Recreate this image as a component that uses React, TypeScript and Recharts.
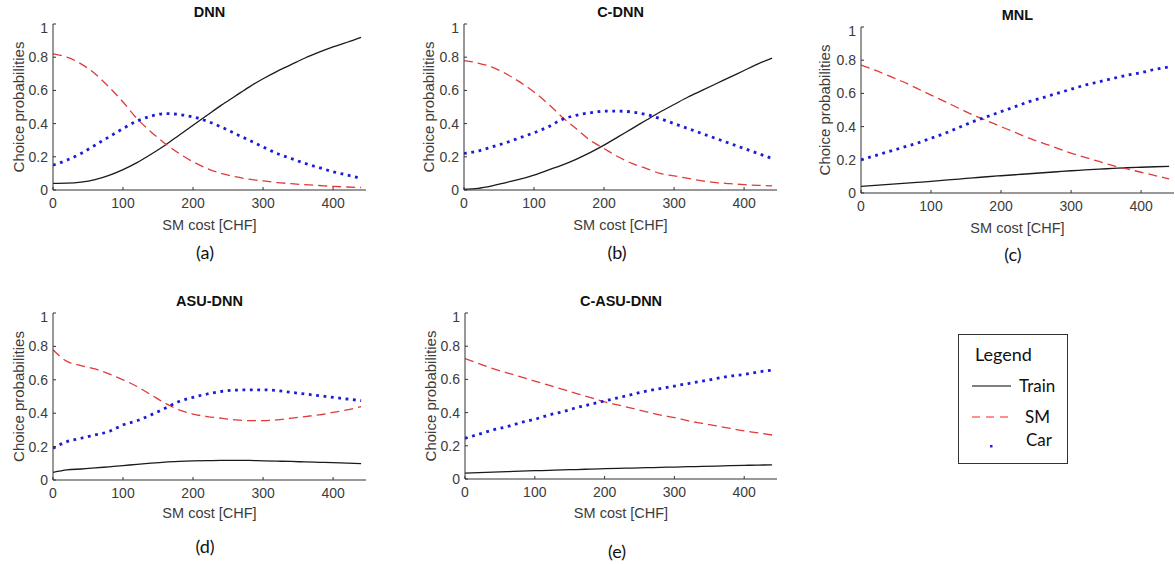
import React from "react";
import { LineChart, Line, XAxis, YAxis, Label } from "recharts";

// SM cost sample points [CHF]
const costs = [0, 20, 40, 60, 80, 100, 120, 140, 160, 180, 200, 220, 240, 260, 280, 300, 320, 340, 360, 380, 400, 420, 440];

const dnnTrain = [0.04, 0.041, 0.047, 0.062, 0.088, 0.123, 0.165, 0.215, 0.27, 0.33, 0.39, 0.45, 0.51, 0.565, 0.62, 0.67, 0.715, 0.755, 0.795, 0.83, 0.862, 0.89, 0.92];
const dnnSM = [0.82, 0.8, 0.76, 0.7, 0.62, 0.53, 0.43, 0.35, 0.28, 0.22, 0.17, 0.13, 0.1, 0.08, 0.065, 0.055, 0.045, 0.038, 0.032, 0.027, 0.022, 0.018, 0.015];
const dnnCar = [0.15, 0.18, 0.22, 0.27, 0.32, 0.37, 0.415, 0.445, 0.46, 0.455, 0.44, 0.415, 0.38, 0.34, 0.3, 0.26, 0.22, 0.19, 0.16, 0.135, 0.11, 0.09, 0.07];

const cdnnTrain = [0.005, 0.01, 0.025, 0.045, 0.065, 0.09, 0.12, 0.15, 0.185, 0.225, 0.27, 0.32, 0.37, 0.42, 0.47, 0.515, 0.56, 0.6, 0.64, 0.68, 0.72, 0.76, 0.795];
const cdnnSM = [0.78, 0.765, 0.74, 0.7, 0.65, 0.59, 0.52, 0.44, 0.37, 0.3, 0.25, 0.2, 0.16, 0.13, 0.1, 0.085, 0.07, 0.055, 0.045, 0.038, 0.032, 0.028, 0.025];
const cdnnCar = [0.22, 0.235, 0.26, 0.285, 0.315, 0.345, 0.38, 0.425, 0.45, 0.465, 0.475, 0.475, 0.47, 0.455, 0.43, 0.4, 0.37, 0.34, 0.31, 0.28, 0.25, 0.22, 0.19];

const mnlTrain = [0.04, 0.046, 0.052, 0.058, 0.064, 0.07, 0.077, 0.084, 0.091, 0.098, 0.104, 0.11, 0.116, 0.122, 0.128, 0.134, 0.139, 0.144, 0.148, 0.152, 0.155, 0.158, 0.16];
const mnlSM = [0.77, 0.74, 0.705, 0.67, 0.63, 0.59, 0.55, 0.51, 0.47, 0.435, 0.4, 0.365, 0.33, 0.3, 0.27, 0.24, 0.215, 0.19, 0.165, 0.145, 0.125, 0.105, 0.085];
const mnlCar = [0.2, 0.225, 0.25, 0.275, 0.3, 0.33, 0.36, 0.395, 0.43, 0.46, 0.49, 0.52, 0.55, 0.575, 0.6, 0.625, 0.65, 0.67, 0.69, 0.71, 0.725, 0.745, 0.76];

const asuTrain = [0.045, 0.06, 0.066, 0.072, 0.079, 0.086, 0.094, 0.101, 0.107, 0.111, 0.114, 0.116, 0.117, 0.118, 0.117, 0.115, 0.113, 0.111, 0.108, 0.106, 0.104, 0.101, 0.098];
const asuSM = [0.78, 0.71, 0.685, 0.665, 0.635, 0.6, 0.56, 0.51, 0.46, 0.42, 0.395, 0.38, 0.37, 0.36, 0.355, 0.355, 0.36, 0.37, 0.38, 0.39, 0.405, 0.42, 0.44];
const asuCar = [0.19, 0.23, 0.25, 0.27, 0.29, 0.33, 0.355, 0.39, 0.43, 0.47, 0.495, 0.515, 0.53, 0.538, 0.54, 0.54, 0.535, 0.525, 0.515, 0.505, 0.495, 0.485, 0.475];

const casuTrain = [0.035, 0.038, 0.041, 0.044, 0.047, 0.05, 0.052, 0.055, 0.057, 0.06, 0.062, 0.064, 0.066, 0.068, 0.07, 0.072, 0.074, 0.076, 0.078, 0.08, 0.082, 0.084, 0.085];
const casuSM = [0.725, 0.695, 0.665, 0.64, 0.615, 0.59, 0.565, 0.54, 0.515, 0.49, 0.465, 0.445, 0.425, 0.405, 0.385, 0.37, 0.35, 0.335, 0.32, 0.305, 0.29, 0.278, 0.265];
const casuCar = [0.245, 0.27, 0.295, 0.315, 0.34, 0.36, 0.385, 0.405, 0.43, 0.45, 0.47, 0.49, 0.51, 0.53, 0.545, 0.56, 0.575, 0.59, 0.605, 0.62, 0.63, 0.645, 0.655];

const xTicks = [0, 100, 200, 300, 400];
const yTicks = [0, 0.2, 0.4, 0.6, 0.8, 1];

const AXIS = "#333";
const TICK_TEXT = "#3c3c3c";
const LEFT = 50;
const RIGHT = 4;
const TOP = 4;
const BOTTOM = 50;

const panels = [
  { title: "DNN", caption: "(a)", train: dnnTrain, sm: dnnSM, car: dnnCar, left: 53, top: 24, w: 313, h: 166, titleY: 12, capX: 205, capY: 252, yGap: 35, xGap: 35 },
  { title: "C-DNN", caption: "(b)", train: cdnnTrain, sm: cdnnSM, car: cdnnCar, left: 464, top: 24, w: 313, h: 166, titleY: 12, capX: 617, capY: 252, yGap: 36, xGap: 35 },
  { title: "MNL", caption: "(c)", train: mnlTrain, sm: mnlSM, car: mnlCar, left: 861, top: 27, w: 313, h: 166, titleY: 15, capX: 1013, capY: 254, yGap: 37, xGap: 35 },
  { title: "ASU-DNN", caption: "(d)", train: asuTrain, sm: asuSM, car: asuCar, left: 53, top: 313, w: 313, h: 167, titleY: 301, capX: 205, capY: 546, yGap: 35, xGap: 33 },
  { title: "C-ASU-DNN", caption: "(e)", train: casuTrain, sm: casuSM, car: casuCar, left: 465, top: 313, w: 312, h: 166, titleY: 301, capX: 617, capY: 551, yGap: 35, xGap: 34 },
];

const fmtProb = (v: number) => (v === 0 || v === 1 ? String(v) : v.toFixed(1));

const centered = (x: number, y: number): React.CSSProperties => ({
  position: "absolute",
  left: x,
  top: y,
  transform: "translate(-50%, -50%)",
  lineHeight: 1,
  whiteSpace: "nowrap",
});

function ChoicePanel({ p }: { p: (typeof panels)[number] }) {
  const rows = costs.map((c, i) => ({ cost: c, train: p.train[i], sm: p.sm[i], car: p.car[i] }));

  const xLabel = (props: any) => {
    const vb = props.viewBox;
    return (
      <text x={vb.x + vb.width / 2} y={vb.y + p.xGap} textAnchor="middle" dominantBaseline="central" fontSize={14.5} fill={TICK_TEXT}>
        SM cost [CHF]
      </text>
    );
  };
  const yLabel = (props: any) => {
    const vb = props.viewBox;
    const x = vb.x + vb.width - p.yGap;
    const y = vb.y + vb.height / 2;
    return (
      <text x={x} y={y} transform={`rotate(-90, ${x}, ${y})`} textAnchor="middle" dominantBaseline="central" fontSize={15} fill={TICK_TEXT}>
        Choice probabilities
      </text>
    );
  };

  return (
    <div style={{ position: "absolute", left: p.left - LEFT, top: p.top - TOP }}>
      <LineChart
        width={p.w + LEFT + RIGHT}
        height={p.h + TOP + BOTTOM}
        data={rows}
        margin={{ top: TOP, right: RIGHT, bottom: 0, left: 0 }}
      >
        <XAxis
          dataKey="cost"
          type="number"
          domain={[0, 447]}
          ticks={xTicks}
          allowDataOverflow
          height={BOTTOM}
          stroke={AXIS}
          tickSize={-3}
          tickMargin={11}
          tick={{ fill: TICK_TEXT, fontSize: 14 }}
        >
          <Label content={xLabel} />
        </XAxis>
        <XAxis
          xAxisId="top"
          orientation="top"
          dataKey="cost"
          type="number"
          domain={[0, 447]}
          ticks={xTicks}
          allowDataOverflow
          height={0}
          mirror
          tick={false}
          tickSize={3}
          stroke={AXIS}
        />
        <YAxis
          type="number"
          domain={[0, 1]}
          ticks={yTicks}
          width={LEFT}
          stroke={AXIS}
          tickSize={-3}
          tickMargin={8}
          tickFormatter={fmtProb}
          tick={{ fill: TICK_TEXT, fontSize: 14 }}
        >
          <Label content={yLabel} />
        </YAxis>
        <YAxis
          yAxisId="right"
          orientation="right"
          type="number"
          domain={[0, 1]}
          ticks={yTicks}
          width={0}
          mirror
          tick={false}
          tickSize={3}
          stroke={AXIS}
        />
        <Line dataKey="train" type="monotone" stroke="#1a1a1a" strokeWidth={1.3} dot={false} isAnimationActive={false} />
        <Line dataKey="sm" type="monotone" stroke="#e03a3a" strokeWidth={1.3} strokeDasharray="9 5" dot={false} isAnimationActive={false} />
        <Line dataKey="car" type="monotone" stroke="#1c1cd8" strokeWidth={2.8} strokeDasharray="2.8 4.6" dot={false} isAnimationActive={false} />
      </LineChart>
    </div>
  );
}

export default function App() {
  return (
    <div
      style={{
        position: "absolute",
        left: 0,
        top: 0,
        width: 1175,
        height: 564,
        background: "#fff",
        fontFamily: "'Liberation Sans', Arial, sans-serif",
        overflow: "hidden",
      }}
    >
      {panels.map((p) => (
        <React.Fragment key={p.title}>
          <ChoicePanel p={p} />
          <div style={{ ...centered(p.left + p.w / 2, p.titleY), fontWeight: "bold", fontSize: 14.5, color: "#111" }}>{p.title}</div>
          <div style={{ ...centered(p.capX, p.capY), fontFamily: "Lato, 'Open Sans', sans-serif", fontSize: 18, color: "#111" }}>
            {p.caption}
          </div>
        </React.Fragment>
      ))}

      <div style={{ position: "absolute", left: 958, top: 334 }}>
        <svg width={110} height={130} style={{ display: "block" }}>
          <rect x={0.5} y={0.5} width={109} height={129} fill="#fff" stroke="#333" strokeWidth={1} />
          <g fontFamily="Lato, 'Open Sans', sans-serif" fill="#111">
            <text x={17} y={20} dominantBaseline="central" fontSize={18}>Legend</text>
            <line x1={14} x2={53} y1={52} y2={52} stroke="#555" strokeWidth={1.3} />
            <text x={61} y={51} dominantBaseline="central" fontSize={17}>Train</text>
            <line x1={14} x2={53} y1={83} y2={83} stroke="#ff2020" strokeWidth={1.2} strokeDasharray="8 6" />
            <text x={67} y={82} dominantBaseline="central" fontSize={17}>SM</text>
            <rect x={32} y={111} width={2.5} height={2.5} fill="#2020ff" />
            <text x={68} y={105} dominantBaseline="central" fontSize={17}>Car</text>
          </g>
        </svg>
      </div>
    </div>
  );
}
